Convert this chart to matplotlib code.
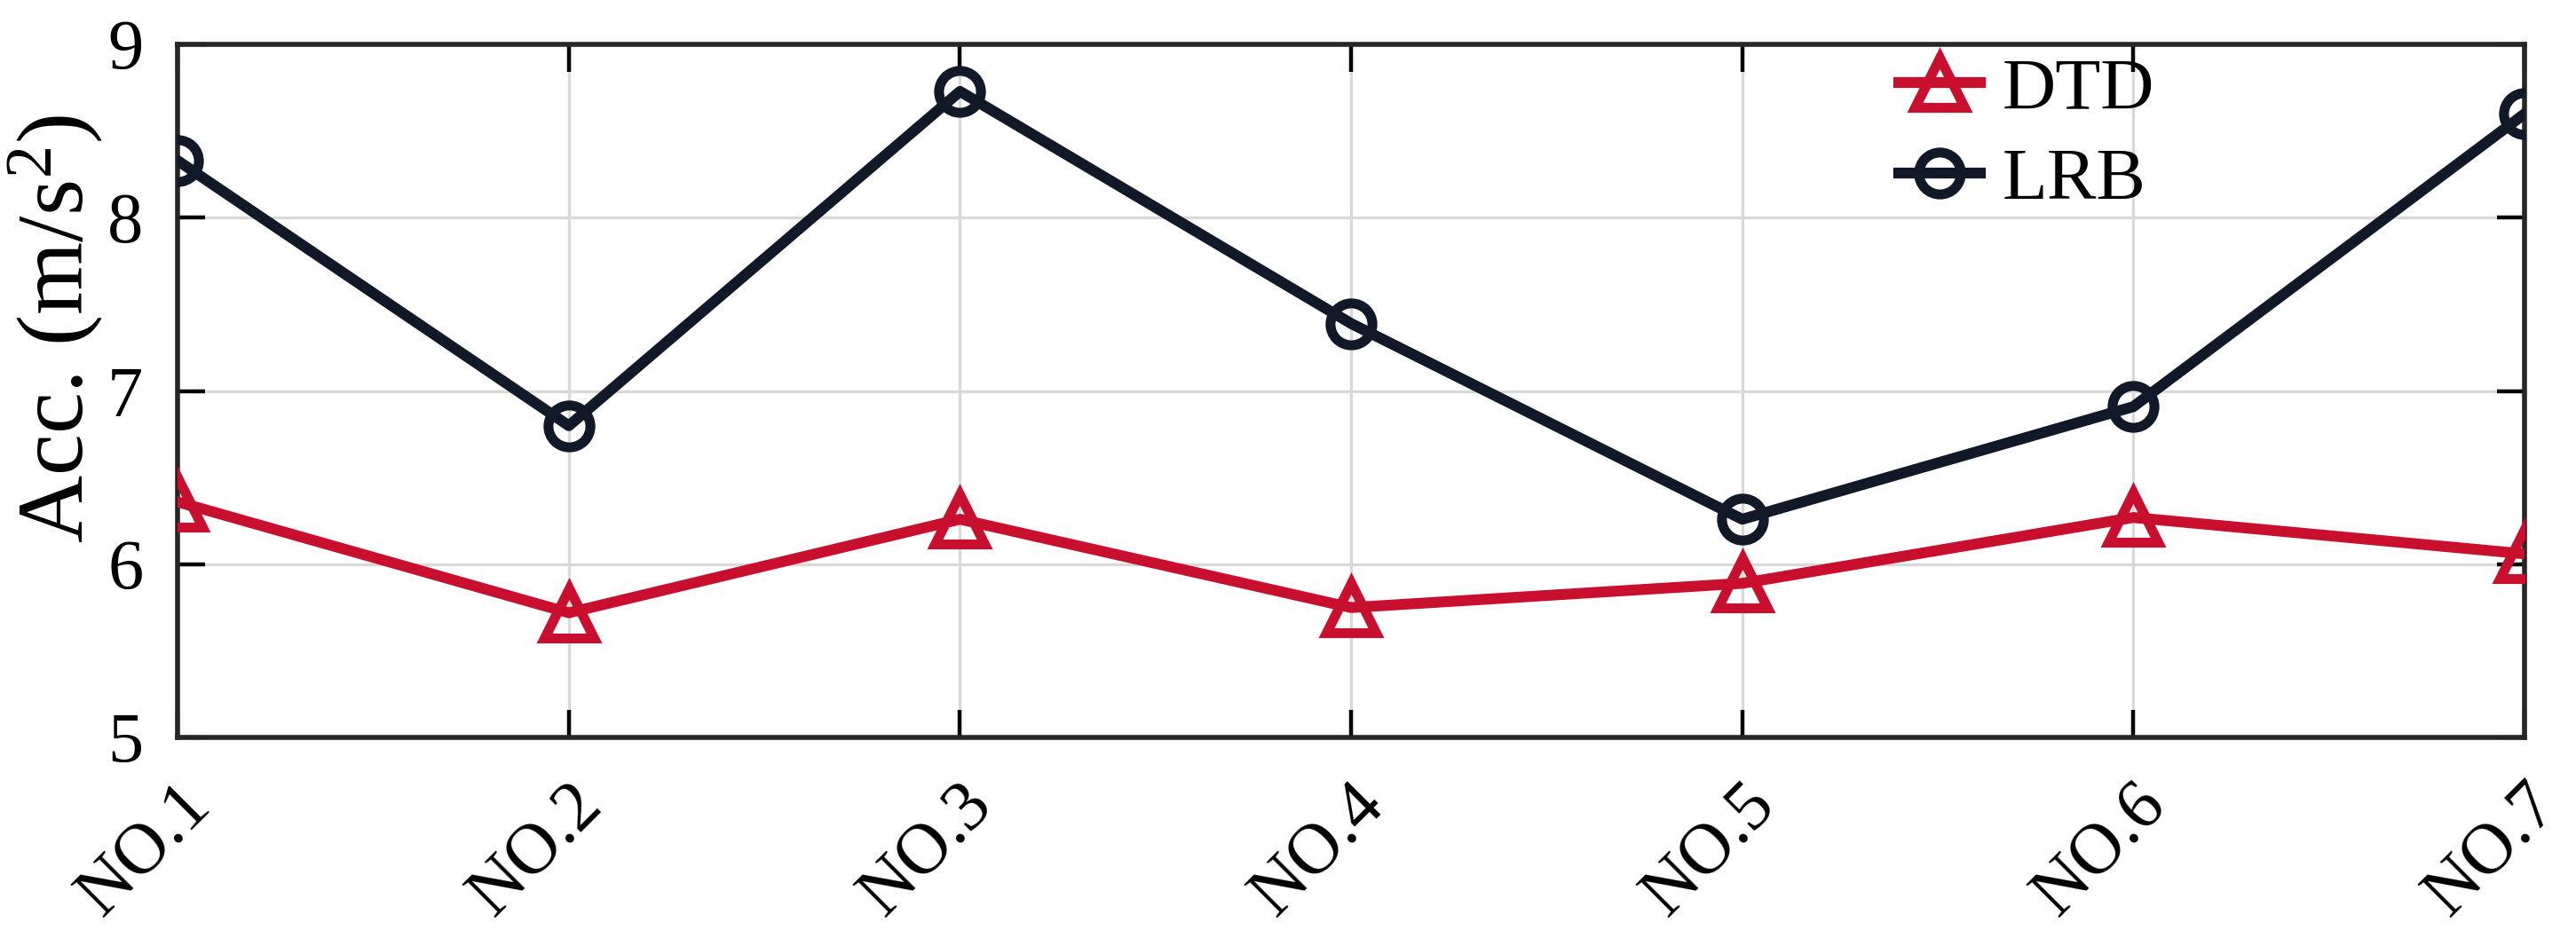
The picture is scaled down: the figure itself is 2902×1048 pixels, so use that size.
import matplotlib
matplotlib.use("Agg")
import matplotlib.pyplot as plt
from matplotlib.transforms import ScaledTranslation

# values
cases = ["NO.1", "NO.2", "NO.3", "NO.4", "NO.5", "NO.6", "NO.7"]
dtd = [6.36, 5.72, 6.26, 5.75, 5.89, 6.27, 6.06]
lrb = [8.33, 6.80, 8.73, 7.39, 6.26, 6.91, 8.60]
y_ticks = [5, 6, 7, 8, 9]

plt.rcParams['font.family'] = 'Liberation Serif'
plt.rcParams['mathtext.fontset'] = 'custom'
plt.rcParams['mathtext.rm'] = 'Liberation Serif'
plt.rcParams['mathtext.it'] = 'Liberation Serif:italic'

red = '#C8102E'
navy = '#111827'

fig = plt.figure(figsize=(14.51, 5.24), dpi=200)
ax = fig.add_axes([0.069, 0.207, 0.911, 0.745])

x = range(len(cases))
ax.plot(x, dtd, color=red, lw=4.4, marker='^', ms=20, mfc='none', mew=4.0, label='DTD', zorder=3)
ax.plot(x, lrb, color=navy, lw=4.4, marker='o', ms=17, mfc='none', mew=4.0, label='LRB', zorder=3)

ax.set_xlim(0, len(cases) - 1)
ax.set_ylim(5, 9)
ax.set_xticks(list(x))
ax.set_xticklabels(cases, rotation=45, ha='right', rotation_mode='anchor')
# matlab-style: rotated labels sit a bit right of their tick
shift = ScaledTranslation(8 / 72, 0, fig.dpi_scale_trans)
for lbl in ax.get_xticklabels():
    lbl.set_transform(lbl.get_transform() + shift)
ax.set_yticks(y_ticks)
ax.set_ylabel('Acc. (m/s$^{2}$)', fontsize=38)
ax.yaxis.set_label_coords(-0.031, 0.59)

ax.grid(True, color='#d9d9d9', lw=1.2)
ax.set_axisbelow(True)
ax.tick_params(direction='in', length=11, width=1.6, labelsize=29,
               top=True, right=True)
ax.tick_params(axis='y', pad=14)
ax.tick_params(axis='x', pad=14)
for s in ax.spines.values():
    s.set_linewidth(2.0)
    s.set_color('#262626')

ax.legend(loc='upper right', frameon=False, fontsize=30, handlelength=1.1,
          handletextpad=0.3, borderaxespad=0.0, bbox_to_anchor=(0.855, 1.025),
          labelspacing=0.3)

fig.savefig('out.png', dpi=200)
